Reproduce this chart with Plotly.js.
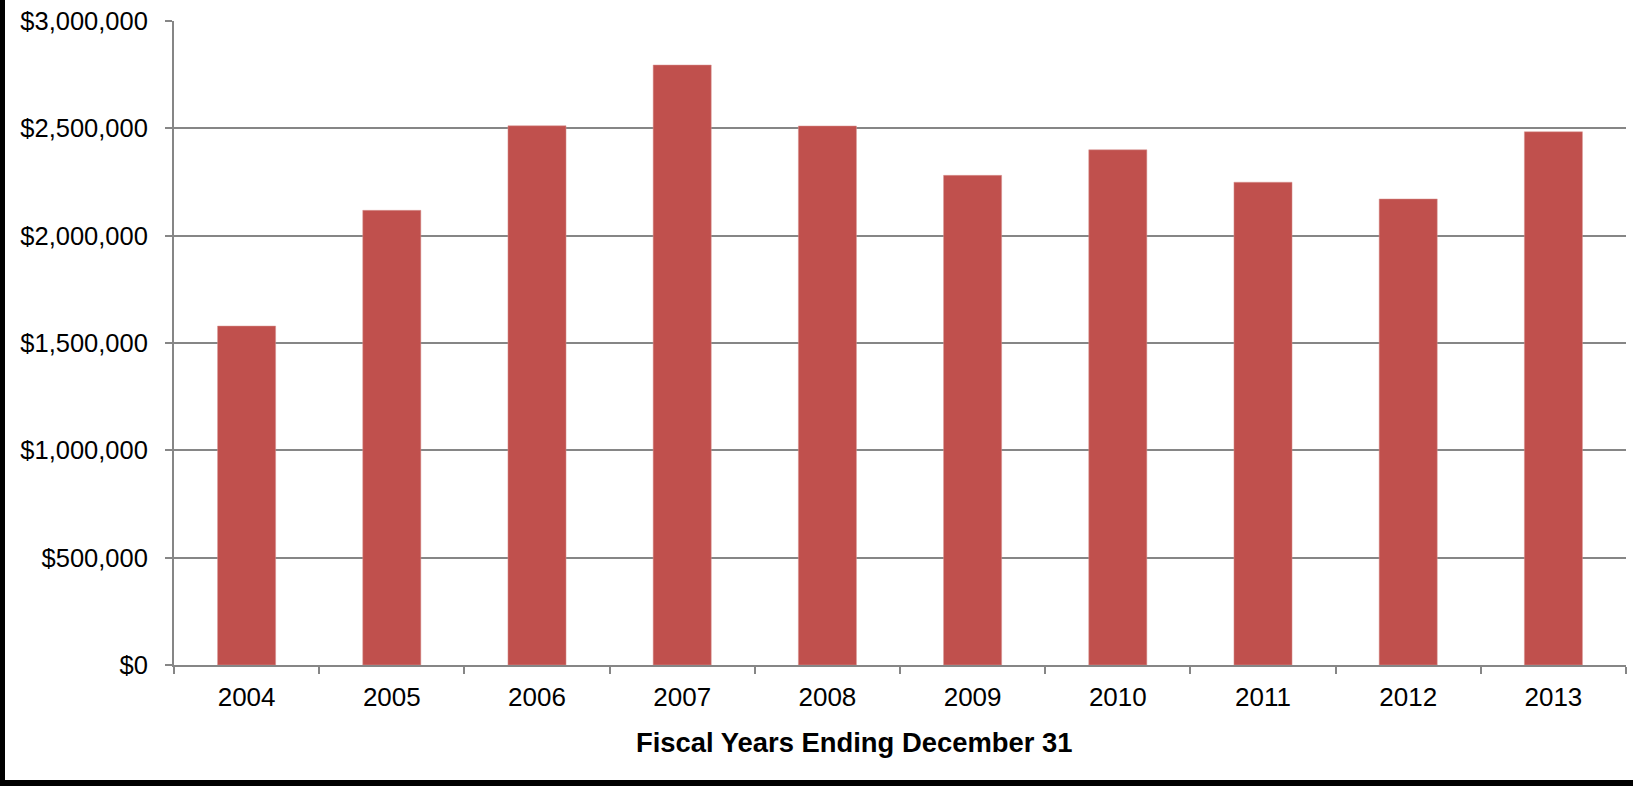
<!DOCTYPE html>
<html>
<head>
<meta charset="utf-8">
<script src="https://cdn.plot.ly/plotly-3.0.1.min.js"></script>
<style>
html, body { margin:0; padding:0; background:#000; width:1633px; height:786px; overflow:hidden; }
#chart { position:absolute; left:5px; top:0; width:1628px; height:780px; background:#fff; }
</style>
</head>
<body>
<div id="chart"></div>
<script>
const years = ["2004","2005","2006","2007","2008","2009","2010","2011","2012","2013"];
const values = [1579000, 2118000, 2512000, 2795000, 2511000, 2281000, 2400000, 2249000, 2171000, 2484000];
const yTickVals = [0, 500000, 1000000, 1500000, 2000000, 2500000, 3000000];
const yTickText = ["$0","$500,000","$1,000,000","$1,500,000","$2,000,000","$2,500,000","$3,000,000"];
const xTitle = "Fiscal Years Ending December 31";

const trace = {
  type: 'bar',
  x: years,
  y: values,
  marker: { color: '#C0504D', line: { color: '#D99694', width: 0.5 } },
  hoverinfo: 'none'
};

const layout = {
  width: 1628, height: 780,
  margin: { l: 169, r: 7, t: 21, b: 115 },
  paper_bgcolor: '#ffffff',
  plot_bgcolor: '#ffffff',
  bargap: 0.6,
  showlegend: false,
  font: { family: '"Liberation Sans", Arial, sans-serif', size: 26, color: '#000' },
  xaxis: {
    type: 'category',
    showgrid: false,
    showline: true, linecolor: '#868686', linewidth: 2,
    ticks: 'outside', tickson: 'boundaries', ticklen: 7, tickcolor: '#868686', tickwidth: 2,
    tickfont: { size: 26 },
    ticklabelstandoff: 8
  },
  yaxis: {
    range: [0, 3000000],
    tickvals: yTickVals, ticktext: yTickText,
    showgrid: true, gridcolor: '#868686', gridwidth: 2,
    zeroline: false,
    showline: true, linecolor: '#868686', linewidth: 2,
    ticks: 'outside', ticklen: 7, tickcolor: '#868686', tickwidth: 2,
    tickfont: { size: 25.5 },
    ticklabelstandoff: 12
  },
  annotations: [{
    text: '<b>' + xTitle + '</b>',
    xref: 'paper', yref: 'paper',
    x: 0.468, y: -0.1196,
    xanchor: 'center', yanchor: 'middle',
    showarrow: false,
    font: { size: 27.4, color: '#000' }
  }]
};

Plotly.newPlot('chart', [trace], layout, { staticPlot: true, displayModeBar: false });
</script>
</body>
</html>
